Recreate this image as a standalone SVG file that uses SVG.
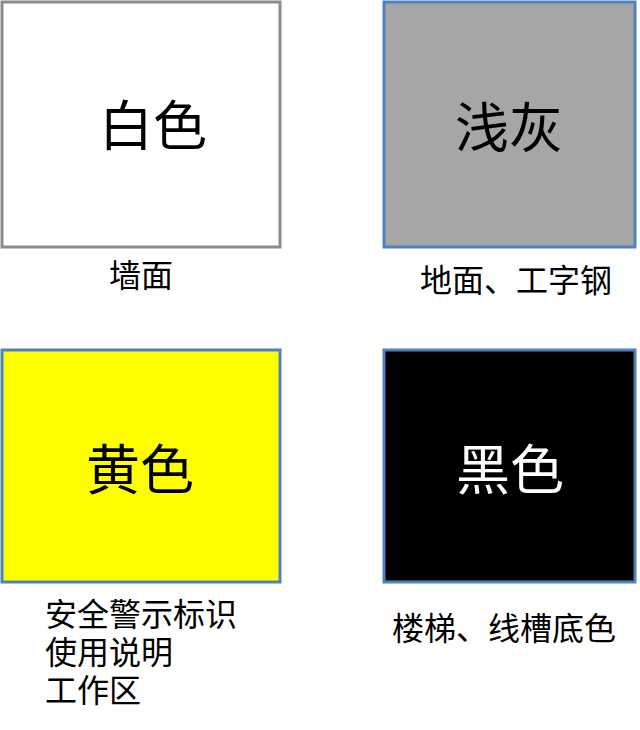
<svg xmlns="http://www.w3.org/2000/svg" width="640" height="730" viewBox="0 0 640 730">
<style>
.t{font-family:"Noto Sans CJK SC","Noto Sans CJK JP",sans-serif;}
.big{font-size:54px;text-anchor:middle;}
.lbl{font-size:32px;fill:#000;}
</style>
<rect width="640" height="730" fill="#fff"/>
<g id="white">
<rect x="2" y="2" width="278" height="245" fill="#fff" stroke="#8c8c8c" stroke-width="3"/>
<text class="t big" x="153" y="146" fill="#000">白色</text>
<text class="t lbl" x="141" y="287" text-anchor="middle">墙面</text>
</g>
<g id="lightgray">
<rect x="384" y="2" width="251" height="245" fill="#a6a6a6" stroke="#4f81bd" stroke-width="3"/>
<text class="t big" x="509" y="148" fill="#000">浅灰</text>
<text class="t lbl" x="420" y="292">地面、工字钢</text>
</g>
<g id="yellow">
<rect x="2" y="350" width="278" height="232" fill="#ffff00" stroke="#4f81bd" stroke-width="3"/>
<text class="t big" x="140" y="490" fill="#000">黄色</text>
<text class="t lbl"><tspan x="45" y="626">安全警示标识</tspan><tspan x="45" y="664">使用说明</tspan><tspan x="45" y="702">工作区</tspan></text>
</g>
<g id="black">
<rect x="384" y="350" width="251" height="232" fill="#000" stroke="#4f81bd" stroke-width="3"/>
<text class="t big" x="510" y="490" fill="#fff">黑色</text>
<text class="t lbl" x="392" y="640">楼梯、线槽底色</text>
</g>
<g id="connectors"/>
</svg>
